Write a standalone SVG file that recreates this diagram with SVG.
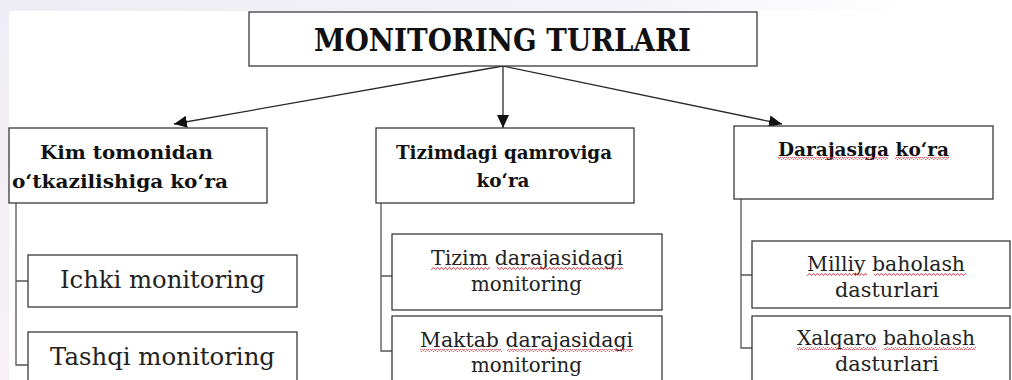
<svg xmlns="http://www.w3.org/2000/svg" width="1012" height="380" viewBox="0 0 1012 380">
  <defs>
    <linearGradient id="topBand" x1="0" y1="0" x2="1" y2="0">
      <stop offset="0" stop-color="#eeedf5"/>
      <stop offset="0.6" stop-color="#f3f2f8"/>
      <stop offset="0.9" stop-color="#ffffff"/>
    </linearGradient>
    <linearGradient id="leftBand" x1="0" y1="0" x2="0" y2="1">
      <stop offset="0" stop-color="#eeedf5"/>
      <stop offset="1" stop-color="#f8f0f5"/>
    </linearGradient>
    <marker id="arrow" markerUnits="userSpaceOnUse" markerWidth="14" markerHeight="12" refX="13" refY="6" orient="auto">
      <path d="M0,0 L13,6 L0,12 Z" fill="#111"/>
    </marker>
    <pattern id="squiggle" patternUnits="userSpaceOnUse" width="4" height="3">
      <path d="M0,2.4 L1,0.6 L2,0.6 L3,2.4 L4,2.4" fill="none" stroke="#e0303a" stroke-width="0.8"/>
    </pattern>
    <style>
      .box { fill: #ffffff; stroke: #3a3a3a; stroke-width: 1.3; }
      .link { fill: none; stroke: #2a2a2a; stroke-width: 1.3; }
      .tree { fill: none; stroke: #555; stroke-width: 1.3; }
      text { font-family: "DejaVu Serif", "Liberation Serif", serif; text-anchor: middle; }
      .title { font-size: 31px; font-weight: bold; fill: #111; }
      .head { font-size: 18.5px; font-weight: bold; fill: #111; }
      .item { font-size: 21px; fill: #222; }
      .itemL { font-size: 25px; fill: #222; }
      .spell { fill: url(#squiggle); }
    </style>
  </defs>

  <!-- page background -->
  <rect x="0" y="0" width="1012" height="380" fill="#ffffff"/>
  <rect x="0" y="0" width="1012" height="11" fill="url(#topBand)"/>
  <rect x="0" y="0" width="9" height="380" fill="url(#leftBand)"/>

  <!-- connectors -->
  <g id="connectors">
    <line class="link" x1="503" y1="66" x2="174" y2="124" marker-end="url(#arrow)"/>
    <line class="link" x1="503" y1="66" x2="503" y2="128" marker-end="url(#arrow)"/>
    <line class="link" x1="503" y1="66" x2="782" y2="124" marker-end="url(#arrow)"/>
    <path class="tree" d="M16,203 V365 H28 M16,281 H28"/>
    <path class="tree" d="M381,203 V351 H392 M381,276 H392"/>
    <path class="tree" d="M741,199 V348 H752 M741,275 H752"/>
  </g>

  <!-- root -->
  <g id="root">
    <rect class="box" x="249" y="12" width="508" height="54"/>
    <text class="title" x="502.5" y="51" textLength="377" lengthAdjust="spacingAndGlyphs">MONITORING TURLARI</text>
  </g>

  <!-- category: who conducts -->
  <g id="cat-who">
    <rect class="box" x="9" y="128" width="258" height="75"/>
    <text class="head" x="126.5" y="159" textLength="173" lengthAdjust="spacingAndGlyphs">Kim tomonidan</text>
    <text class="head" x="120" y="188" textLength="216" lengthAdjust="spacingAndGlyphs">o‘tkazilishiga ko‘ra</text>
  </g>

  <!-- category: system coverage -->
  <g id="cat-coverage">
    <rect class="box" x="376" y="128" width="258" height="75"/>
    <text class="head" x="504" y="159" textLength="216" lengthAdjust="spacingAndGlyphs">Tizimdagi qamroviga</text>
    <text class="head" x="503" y="187" textLength="53" lengthAdjust="spacingAndGlyphs">ko‘ra</text>
  </g>

  <!-- category: level -->
  <g id="cat-level">
    <rect class="box" x="734" y="126" width="259" height="73"/>
    <text class="head" x="863.5" y="156" textLength="171" lengthAdjust="spacingAndGlyphs">Darajasiga ko‘ra</text>
    <rect class="spell" x="778" y="157" width="110" height="3"/>
    <rect class="spell" x="895" y="157" width="54" height="3"/>
  </g>

  <!-- leaves under "who" -->
  <g id="leaf-internal">
    <rect class="box" x="28" y="255" width="269" height="52"/>
    <text class="itemL" x="162.5" y="288" textLength="205" lengthAdjust="spacingAndGlyphs">Ichki monitoring</text>
  </g>
  <g id="leaf-external">
    <rect class="box" x="28" y="332" width="269" height="60"/>
    <text class="itemL" x="162.5" y="365" textLength="225" lengthAdjust="spacingAndGlyphs">Tashqi monitoring</text>
  </g>

  <!-- leaves under "coverage" -->
  <g id="leaf-system">
    <rect class="box" x="392" y="234" width="270" height="76"/>
    <text class="item" x="527" y="265" textLength="192" lengthAdjust="spacingAndGlyphs">Tizim darajasidagi</text>
    <text class="item" x="526.5" y="291" textLength="111" lengthAdjust="spacingAndGlyphs">monitoring</text>
    <rect class="spell" x="431" y="267" width="59" height="3"/>
    <rect class="spell" x="497" y="267" width="126" height="3"/>
  </g>
  <g id="leaf-school">
    <rect class="box" x="392" y="316" width="270" height="76"/>
    <text class="item" x="526.5" y="347" textLength="213" lengthAdjust="spacingAndGlyphs">Maktab darajasidagi</text>
    <text class="item" x="526.5" y="372" textLength="111" lengthAdjust="spacingAndGlyphs">monitoring</text>
    <rect class="spell" x="420" y="349" width="82" height="3"/>
    <rect class="spell" x="507" y="349" width="126" height="3"/>
  </g>

  <!-- leaves under "level" -->
  <g id="leaf-national">
    <rect class="box" x="752" y="241" width="258" height="67"/>
    <text class="item" x="886" y="271" textLength="158" lengthAdjust="spacingAndGlyphs">Milliy baholash</text>
    <text class="item" x="887" y="297" textLength="104" lengthAdjust="spacingAndGlyphs">dasturlari</text>
    <rect class="spell" x="807" y="273" width="60" height="3"/>
    <rect class="spell" x="874" y="273" width="92" height="3"/>
  </g>
  <g id="leaf-international">
    <rect class="box" x="752" y="316" width="258" height="76"/>
    <text class="item" x="886" y="345" textLength="178" lengthAdjust="spacingAndGlyphs">Xalqaro baholash</text>
    <text class="item" x="887" y="371" textLength="104" lengthAdjust="spacingAndGlyphs">dasturlari</text>
    <rect class="spell" x="797" y="347" width="80" height="3"/>
    <rect class="spell" x="884" y="347" width="92" height="3"/>
  </g>
</svg>
